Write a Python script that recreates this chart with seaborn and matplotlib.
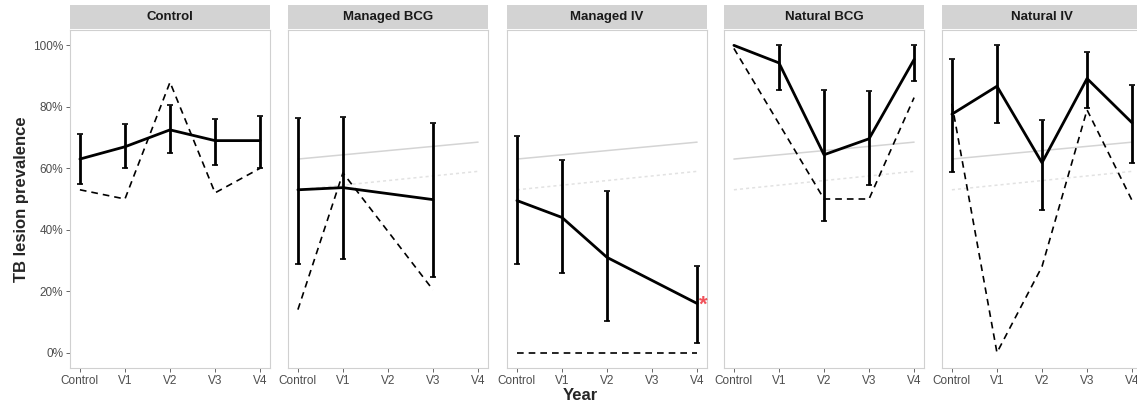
import numpy as np
import pandas as pd
import matplotlib
matplotlib.use("Agg")
import matplotlib.pyplot as plt
import seaborn as sns
from matplotlib.patches import Rectangle

sns.set_theme(style="white")
plt.rcParams['font.family'] = ['Liberation Sans', 'DejaVu Sans']

visits = ["Control", "V1", "V2", "V3", "V4"]
groups = ["Control", "Managed BCG", "Managed IV", "Natural BCG", "Natural IV"]

# observed prevalence (solid), %
solid = {
    "Control":     [63, 67, 72.5, 69, 69],
    "Managed BCG": [53, 53.7, None, 49.8, None],
    "Managed IV":  [49.5, 44, 31, None, 16],
    "Natural BCG": [100, 94.3, 64.4, 69.6, 95.4],
    "Natural IV":  [77.6, 86.7, 61.8, 89.2, 74.8],
}
lower = {
    "Control":     [55, 60, 65, 61, 60],
    "Managed BCG": [29, 30.4, None, 24.6, None],
    "Managed IV":  [29, 25.8, 10.2, None, 3],
    "Natural BCG": [None, 85.4, 42.8, 54.4, 88.3],
    "Natural IV":  [58.7, 74.8, 46.3, 79.5, 61.7],
}
upper = {
    "Control":     [71, 74.5, 80.5, 76, 77],
    "Managed BCG": [76.4, 76.7, None, 74.8, None],
    "Managed IV":  [70.5, 62.8, 52.5, None, 28.3],
    "Natural BCG": [None, 100, 85.4, 85, 100],
    "Natural IV":  [95.4, 100, 75.6, 97.8, 87],
}
# second series (dashed), %
dashed = {
    "Control":     [53, 50, 88, 52, 60],
    "Managed BCG": [14, 58.5, None, 20.4, None],
    "Managed IV":  [0, 0, 0, 0, 0],
    "Natural BCG": [99, None, 50, 50, 83],
    "Natural IV":  [81, 0, 28, 79, 49.5],
}
# control reference trends (grey)
ref_visits = ["Control", "V4"]
ref_solid = [63, 68.5]
ref_dotted = [53, 59]
# significance marker
star_group, star_visit = "Managed IV", "V4"

yticks = [0, 20, 40, 60, 80, 100]
ytick_labels = ["0%", "20%", "40%", "60%", "80%", "100%"]

W, H = 1137, 405
fig = plt.figure(figsize=(W / 100, H / 100), dpi=100)
lefts = [70, 288, 507, 724, 942]
pw = 200
top_px, bot_px = 30, 368

xpos = {v: i for i, v in enumerate(visits)}

for gi, (g, lx) in enumerate(zip(groups, lefts)):
    ax = fig.add_axes([lx / W, 1 - bot_px / H, pw / W, (bot_px - top_px) / H])
    ax.set_facecolor("white")
    # reference lines
    if g != "Control":
        rdf = pd.DataFrame({"x": [xpos[v] for v in ref_visits], "s": ref_solid, "d": ref_dotted})
        sns.lineplot(data=rdf, x="x", y="s", ax=ax, color="#D4D4D4", lw=1.1, sort=False)
        l = sns.lineplot(data=rdf, x="x", y="d", ax=ax, color="#E2E2E2", lw=1.1, sort=False)
        l.lines[-1].set_dashes((2, 2))
    # dashed series
    ddf = pd.DataFrame({"x": range(5), "y": dashed[g]}).dropna()
    sns.lineplot(data=ddf, x="x", y="y", ax=ax, color="black", lw=1.2, sort=False)
    ax.lines[-1].set_dashes((4, 3))
    # solid series
    sdf = pd.DataFrame({"x": range(5), "y": solid[g], "lo": lower[g], "hi": upper[g]})
    sdf_l = sdf.dropna(subset=["y"])
    sns.lineplot(data=sdf_l, x="x", y="y", ax=ax, color="black", lw=2.0, sort=False)
    e = sdf.dropna()
    ax.errorbar(e["x"], e["y"], yerr=[e["y"] - e["lo"], e["hi"] - e["y"]], fmt="none",
                ecolor="black", elinewidth=2.0, capsize=2.5, capthick=1.2)
    if g == star_group:
        yv = solid[g][xpos[star_visit]]
        ax.text(xpos[star_visit] + 0.13, yv - 0.5, "*", color="#F0525A", fontsize=16,
                ha="center", va="center", fontweight="bold")
    ax.set_xlim(-0.22, 4.22)
    ax.set_ylim(-5, 105)
    ax.set_xticks(range(5))
    ax.set_xticklabels(visits, fontsize=8.5, color="#4D4D4D")
    ax.set_yticks(yticks)
    if gi == 0:
        ax.set_yticklabels(ytick_labels, fontsize=8.5, color="#4D4D4D")
        ax.set_ylabel("TB lesion prevalence", fontsize=12, fontweight="bold", labelpad=3)
    else:
        ax.set_yticklabels([])
        ax.set_ylabel("")
        ax.tick_params(axis="y", length=0)
    ax.set_xlabel("")
    ax.tick_params(axis="both", length=3, width=0.6, color="#4D4D4D", pad=2,
                   bottom=True, left=(gi == 0))
    for s in ax.spines.values():
        s.set_color("#D0D0D0")
        s.set_linewidth(0.8)
    ax.grid(False)
    sh = 24 / (bot_px - top_px)
    ax.add_patch(Rectangle((0, 1.003), 1, sh, transform=ax.transAxes, facecolor="#D3D3D3",
                           edgecolor="none", clip_on=False))
    ax.text(0.5, 1.003 + sh / 2, g, transform=ax.transAxes, ha="center", va="center",
            fontsize=9.5, fontweight="bold", color="#1A1A1A")

fig.text(580 / W, 1 - 396 / H, "Year", ha="center", va="center", fontsize=12, fontweight="bold")
fig.savefig("out.png", dpi=100)
